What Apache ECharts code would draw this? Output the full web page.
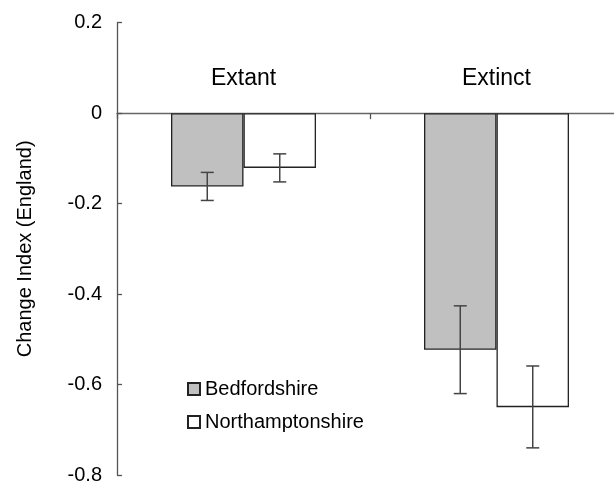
<!DOCTYPE html>
<html>
<head>
<meta charset="utf-8">
<script src="https://cdn.jsdelivr.net/npm/echarts@6/dist/echarts.min.js"></script>
<style>html,body{margin:0;padding:0;background:#fff}#c{width:614px;height:486px}</style>
</head>
<body>
<div id="c"></div>
<script>
var categories = ['Extant', 'Extinct'];
var seriesNames = ['Bedfordshire', 'Northamptonshire'];
var bedfordshire = [-0.162, -0.523];
var northamptonshire = [-0.121, -0.650];
var bedfordshireLow = [-0.193, -0.620];
var bedfordshireHigh = [-0.131, -0.426];
var northamptonshireLow = [-0.152, -0.740];
var northamptonshireHigh = [-0.090, -0.559];
var yTicks = {min: -0.8, max: 0.2, interval: 0.2};

var FONT = 'Liberation Sans';
var catGap = 0.427;

function errData(low, high) {
  return categories.map(function (c, i) { return [i, low[i], high[i]]; });
}
function errRender(seriesIdx) {
  return function (params, api) {
    var i = api.value(0);
    var band = api.size([1, 0])[0];
    var bw = band * (1 - catGap) / 2;
    var center = api.coord([i, 0])[0];
    var x = center + (seriesIdx === 0 ? -bw / 2 : bw / 2);
    var lo = api.coord([i, api.value(1)])[1];
    var hi = api.coord([i, api.value(2)])[1];
    var cap = 6.5;
    var st = {stroke: '#444', lineWidth: 1.5};
    return {type: 'group', children: [
      {type: 'line', shape: {x1: x, y1: lo, x2: x, y2: hi}, style: st},
      {type: 'line', shape: {x1: x - cap, y1: lo, x2: x + cap, y2: lo}, style: st},
      {type: 'line', shape: {x1: x - cap, y1: hi, x2: x + cap, y2: hi}, style: st}
    ]};
  };
}

var chart = echarts.init(document.getElementById('c'));
chart.setOption({
  animation: false,
  textStyle: {fontFamily: FONT},
  grid: {left: 117, width: 506, top: 22.7, bottom: 11, containLabel: false, outerBoundsMode: 'none'},
  legend: {
    orient: 'vertical', left: 182, top: 374,
    itemWidth: 12, itemHeight: 12, itemGap: 13,
    textStyle: {fontFamily: FONT, fontSize: 20, color: '#000'},
    data: seriesNames.map(function (n) { return {name: n, icon: 'rect'}; })
  },
  xAxis: [{
    type: 'category', data: categories,
    axisLine: {onZero: true, lineStyle: {color: '#666', width: 1.3}},
    axisTick: {show: true, length: 6, lineStyle: {color: '#555', width: 1.3}},
    axisLabel: {show: false},
    splitLine: {show: false}
  }, {
    type: 'category', data: categories, position: 'top', offset: -67,
    axisLine: {show: false}, axisTick: {show: false},
    axisLabel: {margin: 0, fontFamily: FONT, fontSize: 23, color: '#000'},
    splitLine: {show: false}
  }],
  yAxis: {
    type: 'value', min: yTicks.min, max: yTicks.max, interval: yTicks.interval,
    name: 'Change Index (England)', nameLocation: 'middle', nameGap: 82,
    nameTextStyle: {fontFamily: FONT, fontSize: 20, color: '#000'},
    axisLine: {show: true, lineStyle: {color: '#555', width: 1.3}},
    axisTick: {show: true, inside: true, length: 5, lineStyle: {color: '#555', width: 1.3}},
    axisLabel: {margin: 15, fontFamily: FONT, fontSize: 20, color: '#000',
      formatter: function (v) { return String(Math.round(v * 10) / 10); }},
    splitLine: {show: false}
  },
  series: [
    {name: seriesNames[0], type: 'bar', data: bedfordshire, barGap: '0%', barCategoryGap: '42.7%',
      itemStyle: {color: '#c0c0c0', borderColor: '#222', borderWidth: 1.3}, z: 2},
    {name: seriesNames[1], type: 'bar', data: northamptonshire, barGap: '0%', barCategoryGap: '42.7%',
      itemStyle: {color: '#ffffff', borderColor: '#222', borderWidth: 1.3}, z: 2},
    {type: 'custom', data: errData(bedfordshireLow, bedfordshireHigh), renderItem: errRender(0),
      encode: {x: 0, y: [1, 2]}, z: 5, silent: true},
    {type: 'custom', data: errData(northamptonshireLow, northamptonshireHigh), renderItem: errRender(1),
      encode: {x: 0, y: [1, 2]}, z: 5, silent: true}
  ]
});
</script>
</body>
</html>
